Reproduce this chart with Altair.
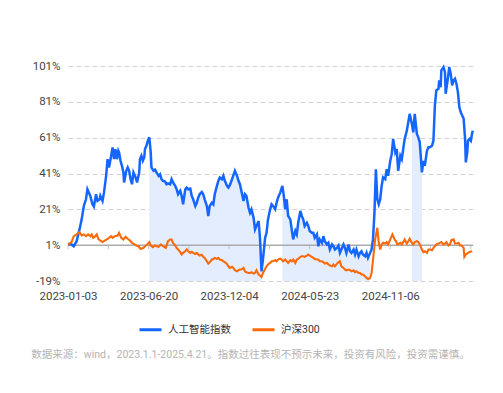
import altair as alt
import pandas as pd

# trading-day index (0 = 2023-01-03) and cumulative return (%)
blue_day = [0, 5, 8, 12, 16, 19, 22, 25, 27, 31, 34, 36, 39, 41, 44, 45, 48, 50, 53, 55,
            57, 60, 62, 64, 66, 68, 70, 71, 73, 75, 77, 78, 81, 83, 85, 87, 89, 91, 94, 96,
            99, 100, 102, 104, 106, 107, 109, 111, 113, 115, 116, 119, 121, 123, 126, 128, 130, 132, 135, 137,
            139, 142, 144, 146, 149, 151, 153, 156, 158, 160, 163, 165, 167, 170, 172, 174, 177, 179, 181, 183,
            186, 188, 190, 193, 195, 197, 200, 202, 204, 207, 209, 211, 214, 216, 218, 221, 223, 225, 228, 230,
            232, 235, 237, 239, 241, 244, 246, 248, 251, 253, 255, 258, 260, 262, 265, 267, 269, 271, 274, 276,
            278, 281, 283, 285, 288, 290, 292, 295, 298, 300, 302, 304, 306, 309, 311, 313, 316, 318, 320, 323,
            325, 327, 329, 332, 334, 336, 339, 341, 343, 346, 348, 350, 353, 355, 357, 360, 362, 364, 367, 369,
            371, 374, 376, 378, 380, 383, 385, 387, 390, 392, 394, 397, 399, 401, 404, 406, 408, 410, 413, 415,
            417, 420, 422, 424, 426, 428, 430, 432, 434, 436, 438, 441, 443, 445, 448, 450, 452, 455, 457, 459,
            462, 464, 466, 468, 471, 473, 475, 478, 480, 482, 485, 487, 489, 492, 494, 496, 499, 501, 503, 506,
            508, 510, 512, 515, 516, 518, 519, 522, 524, 525, 528, 530, 532, 534, 536, 538, 540, 542, 544, 546,
            550, 552, 553, 555, 556, 558, 560, 562, 563]
blue_val = [1.7, 1.4, 0.4, 3.2, 9.8, 15.4, 22.9, 26.6, 32.2, 28.5, 23.8, 22.5, 29.4, 25.7, 26.6, 28.5, 25.7, 30.3, 39.7, 49.0,
            44.4, 50.9, 55.6, 49.0, 54.6, 49.0, 53.7, 52.8, 48.1, 45.3, 41.6, 36.0, 42.5, 44.4, 42.5, 37.8, 35.0, 41.6, 38.8, 36.0,
            41.6, 49.0, 50.9, 48.1, 50.0, 54.6, 56.5, 59.3, 61.2, 52.8, 44.4, 42.5, 43.1, 41.6, 39.7, 40.6, 37.8, 36.9, 36.5, 35.0,
            35.5, 35.0, 37.8, 36.0, 34.1, 32.2, 29.4, 31.3, 28.5, 23.8, 32.2, 33.1, 32.2, 32.6, 28.5, 26.6, 22.9, 24.7, 27.5, 29.4,
            30.7, 29.4, 26.6, 22.9, 17.3, 22.9, 24.7, 23.8, 29.4, 34.1, 36.9, 38.8, 37.8, 39.7, 36.9, 34.1, 33.1, 34.5, 37.8, 40.1,
            42.5, 39.7, 36.9, 35.0, 31.3, 25.7, 29.4, 28.5, 21.9, 19.1, 21.0, 16.3, 9.8, 11.7, 14.5, 4.2, -13.6, -7.0, 5.1, 7.9,
            15.4, 21.0, 23.8, 22.9, 21.0, 24.7, 27.5, 30.3, 34.1, 28.5, 21.0, 26.6, 17.3, 15.4, 9.8, 4.2, 8.9, 7.0, 13.5, 20.1,
            17.3, 15.4, 11.7, 13.5, 11.7, 8.9, 7.9, 7.9, 5.1, 7.0, 0.4, 4.2, 2.3, 6.0, 3.2, 1.4, 2.3, -1.4, 1.4, 0.4,
            -1.4, -0.5, 0.8, -3.3, -1.4, 1.4, -0.5, -3.3, 1.4, -2.4, -3.3, -1.4, -4.2, -1.4, -5.2, -3.3, -2.4, -4.2, -5.2, -3.3,
            -6.1, -3.3, -1.4, 4.2, 19.1, 43.4, 26.6, 23.8, 26.6, 34.1, 38.8, 37.8, 43.4, 39.7, 48.1, 51.8, 60.3, 52.8, 54.6, 42.5,
            50.9, 49.0, 54.6, 60.3, 64.9, 69.6, 74.3, 68.7, 64.0, 74.3, 63.1, 61.2, 58.4, 41.6, 48.1, 45.3, 53.7, 55.6, 55.6, 56.5,
            59.3, 78.9, 87.4, 88.3, 93.0, 89.2, 98.6, 100.4, 97.6, 85.5, 93.9, 100.4, 96.7, 90.2, 93.0, 93.9, 91.1, 86.4, 78.0, 75.2,
            71.5, 60.3, 47.2, 52.8, 59.3, 60.3, 59.3, 64.0, 64.9]

orange_day = [0, 5, 8, 12, 16, 19, 22, 25, 28, 31, 33, 35, 38, 40, 42, 44, 48, 50, 54, 57,
              60, 62, 65, 69, 71, 74, 77, 80, 83, 86, 89, 91, 95, 98, 101, 105, 107, 110, 113, 115,
              118, 121, 123, 126, 129, 132, 136, 139, 142, 144, 146, 149, 151, 153, 156, 158, 160, 163, 165, 167,
              170, 172, 174, 177, 179, 181, 183, 186, 188, 190, 193, 195, 197, 200, 202, 204, 207, 209, 211, 214,
              216, 218, 221, 223, 225, 228, 230, 232, 235, 237, 239, 241, 244, 246, 248, 251, 253, 255, 258, 260,
              262, 265, 267, 269, 271, 274, 276, 278, 281, 283, 285, 288, 290, 292, 295, 297, 299, 302, 304, 306,
              309, 311, 313, 316, 318, 320, 323, 325, 327, 329, 332, 334, 336, 339, 341, 343, 346, 348, 350, 353,
              355, 357, 360, 362, 364, 367, 369, 371, 374, 376, 378, 380, 383, 385, 387, 390, 392, 394, 397, 399,
              401, 404, 406, 408, 410, 413, 415, 417, 420, 422, 423, 425, 427, 430, 432, 434, 436, 438, 441, 443,
              445, 448, 451, 454, 456, 458, 462, 464, 466, 468, 471, 473, 475, 478, 480, 482, 485, 487, 489, 492,
              494, 496, 499, 501, 503, 506, 508, 510, 512, 515, 517, 519, 522, 524, 526, 529, 531, 533, 536, 538,
              540, 543, 545, 547, 550, 551, 553, 556, 559, 562]
orange_val = [1.4, 2.7, 6.0, 7.0, 8.3, 6.4, 7.0, 6.0, 7.0, 6.0, 7.0, 5.1, 6.0, 7.0, 4.6, 3.8, 2.7, 3.2, 4.2, 5.1,
              6.0, 5.1, 6.0, 6.4, 7.9, 5.1, 4.2, 5.7, 4.6, 3.6, 2.3, 1.9, 0.8, 0.4, -1.1, -0.5, 0.4, 1.4, 2.7, 0.8,
              -0.1, 0.8, 0.4, 0.1, 1.4, 0.4, -0.5, 3.2, 4.2, 4.2, 2.3, 0.8, -0.5, -1.4, -2.9, -4.2, -3.3, -2.4, -1.4, -2.4,
              -3.3, -2.7, -3.3, -3.9, -3.3, -4.2, -4.8, -4.4, -5.5, -6.1, -8.0, -9.3, -8.5, -7.0, -6.7, -6.1, -6.7, -6.1, -7.0, -7.4,
              -8.0, -8.5, -9.5, -10.8, -11.7, -11.1, -11.7, -13.0, -13.6, -13.0, -12.6, -12.6, -11.7, -13.6, -14.1, -14.5, -14.5, -14.1, -14.9, -14.5,
              -13.0, -15.4, -16.0, -16.8, -14.5, -12.3, -10.8, -9.8, -8.9, -8.0, -8.0, -7.4, -8.0, -7.0, -6.5, -7.0, -8.0, -7.0, -8.0, -8.9,
              -7.4, -8.0, -7.0, -8.9, -7.0, -6.7, -5.5, -5.2, -5.2, -5.5, -4.8, -4.2, -4.8, -5.5, -6.1, -6.7, -7.0, -7.0, -8.0, -8.0,
              -8.5, -9.3, -8.9, -9.8, -10.4, -10.8, -9.8, -10.8, -9.3, -8.5, -8.0, -10.8, -11.7, -12.6, -13.0, -12.6, -13.0, -13.6, -13.0, -14.1,
              -13.6, -14.5, -14.5, -15.4, -15.4, -16.4, -17.3, -17.9, -17.3, -14.5, -10.8, -3.3, 4.2, 10.7, 2.3, -1.4, 1.4, 2.3, 1.9, 2.7,
              1.4, 4.2, 7.0, 4.2, 3.2, 1.4, 2.3, 1.4, 2.7, 4.2, 1.9, 3.2, 4.6, 2.3, 1.4, 2.7, 3.2, 2.7, 1.4, -1.4,
              -2.9, -2.4, -3.3, -1.4, -1.4, -1.8, -0.5, 0.4, 1.4, 1.9, 2.3, 2.7, 1.4, 1.9, 2.7, 0.8, 1.4, 3.8, 4.2, 1.9,
              1.9, 2.3, 0.8, 0.8, -0.5, -5.5, -4.2, -3.3, -2.7, -2.4]

# shaded periods (trading-day index ranges)
shade_periods = [(113, 269), (298, 420), (478, 492)]

series_names = ["人工智能指数", "沪深300"]
series_colors = ["#1565FF", "#FA6A0A"]

tick_days = [0, 112, 224, 336, 448]
tick_labels = ["2023-01-03", "2023-06-20", "2023-12-04", "2024-05-23", "2024-11-06"]
minor_tick_days = list(range(0, 564, 56))
y_ticks = [-19, 1, 21, 41, 61, 81, 101]
y_min, y_max = -19, 101
x_max = 563

footnote = "数据来源：wind，2023.1.1-2025.4.21。指数过往表现不预示未来，投资有风险，投资需谨慎。"

FONT = "Roboto, 'Noto Sans CJK SC', sans-serif"

blue = pd.DataFrame({"day": blue_day, "val": blue_val, "series": series_names[0]})
orange = pd.DataFrame({"day": orange_day, "val": orange_val, "series": series_names[1]})

shade_rows = []
for k, (a, b) in enumerate(shade_periods):
    sub = blue[(blue.day >= a) & (blue.day <= b)].copy()
    sub["period"] = k
    shade_rows.append(sub)
shade = pd.concat(shade_rows)

label_expr = " : ".join(f"datum.value == {d} ? '{t}'" for d, t in zip(tick_days, tick_labels)) + " : ''"

xscale = alt.Scale(domain=[0, x_max], nice=False, zero=False)
yscale = alt.Scale(domain=[y_min, y_max], nice=False, zero=False)

x_axis = alt.Axis(values=tick_days, labelExpr=label_expr, title=None, grid=False,
                  domain=False, ticks=False, labelPadding=9, labelFontSize=11.5,
                  labelColor="#444", labelFont=FONT, labelFlush=False, labelOverlap=False)
y_axis = alt.Axis(values=y_ticks, labelExpr="datum.value + '%'", title=None,
                  domain=False, ticks=False, labelPadding=8, labelFontSize=11.5,
                  labelColor="#444", labelFont=FONT, grid=True, gridDash=[5, 3],
                  gridColor="#d3d3d3", gridWidth=1, labelOverlap=False)

x_enc = alt.X("day:Q", scale=xscale, axis=x_axis)
y_enc = alt.Y("val:Q", scale=yscale, axis=y_axis)

color_scale = alt.Scale(domain=series_names, range=series_colors)

area = alt.Chart(shade).mark_area(color="#E3EDFD", opacity=1).encode(
    x=x_enc, y=y_enc, y2=alt.datum(y_min), detail="period:N")

zero_rule = alt.Chart(pd.DataFrame({"val": [1]})).mark_rule(color="#ababab", strokeWidth=1.5).encode(
    y=y_enc)

minor = alt.Chart(pd.DataFrame({"day": minor_tick_days, "val": 1})).mark_tick(
    orient="vertical", size=4, thickness=1, color="#ababab", yOffset=2).encode(
    x=x_enc, y=y_enc)

legend = alt.Legend(title=None, orient="none", legendX=70, legendY=251, direction="horizontal",
                    symbolType="stroke", symbolSize=484, symbolStrokeWidth=3,
                    labelFontSize=10.5, labelColor="#333", labelFont=FONT,
                    columnPadding=15, labelOffset=5)

line_b = alt.Chart(blue).mark_line(strokeWidth=2.5).encode(
    x=x_enc, y=y_enc, color=alt.Color("series:N", scale=color_scale, legend=legend))
line_o = alt.Chart(orange).mark_line(strokeWidth=2.1).encode(
    x=x_enc, y=y_enc, color=alt.Color("series:N", scale=color_scale, legend=legend))

chart = alt.layer(area, zero_rule, minor, line_b, line_o).properties(
    width=405, height=215,
    autosize=alt.AutoSizeParams(type="none"),
    padding={"left": 60, "top": 58, "right": 22, "bottom": 104},
    title=alt.TitleParams(footnote, orient="bottom", anchor="middle", fontSize=10.5,
                          fontWeight="normal", color="#b4b4b4", font=FONT, offset=14, dx=-20),
    background="white",
).configure_view(stroke=None).configure_axis(labelOverlap=False)

chart.save("out.html", embed_options={"renderer": "svg", "actions": False})
